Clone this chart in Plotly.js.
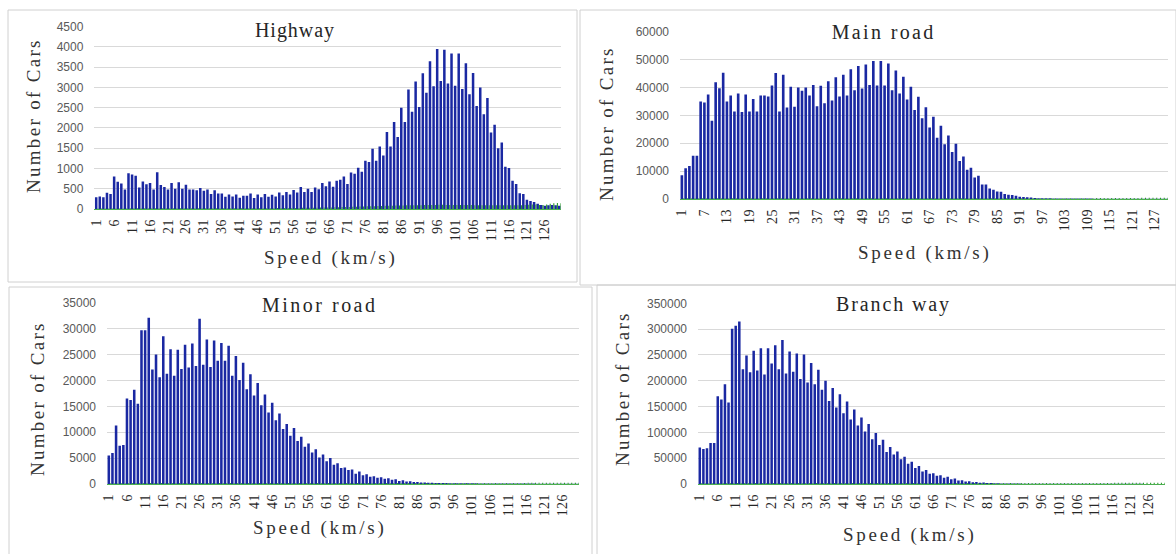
<!DOCTYPE html>
<html><head><meta charset="utf-8">
<script src="https://cdn.plot.ly/plotly-3.0.1.min.js"></script>
<style>html,body{margin:0;padding:0;background:#fff}#chart{width:1176px;height:554px}</style>
</head><body><div id="chart"></div>
<script>
// ---------------- DATA ----------------
const speeds = [1,2,3,4,5,6,7,8,9,10,11,12,13,14,15,16,17,18,19,20,21,22,23,24,25,26,27,28,29,30,
31,32,33,34,35,36,37,38,39,40,41,42,43,44,45,46,47,48,49,50,51,52,53,54,55,56,57,58,59,60,
61,62,63,64,65,66,67,68,69,70,71,72,73,74,75,76,77,78,79,80,81,82,83,84,85,86,87,88,89,90,
91,92,93,94,95,96,97,98,99,100,101,102,103,104,105,106,107,108,109,110,111,112,113,114,115,116,117,118,119,120,
121,122,123,124,125,126,127,128,129,130];

const ticksEvery5 = [1,6,11,16,21,26,31,36,41,46,51,56,61,66,71,76,81,86,91,96,101,106,111,116,121,126];
const ticksEvery6 = [1,7,13,19,25,31,37,43,49,55,61,67,73,79,85,91,97,103,109,115,121,127];

const highwayCars = [290,310,290,400,370,800,670,630,480,880,
850,820,530,680,610,640,480,910,590,540,
480,640,500,660,500,600,480,480,460,520,
450,480,370,460,380,380,300,360,310,360,
280,330,330,380,270,360,290,370,300,350,
310,410,340,420,360,470,410,540,420,500,
420,530,490,640,560,680,550,700,720,800,
620,900,870,1020,920,1190,1160,1490,1190,1540,
1320,1900,1540,2150,1780,2500,2150,2950,2400,3150,
2520,3350,2870,3650,3030,3950,3160,3930,3100,3840,
3040,3840,2960,3600,2830,3360,2540,3000,2340,2740,
1890,2080,1500,1640,1040,1010,700,620,390,370,
230,200,170,130,100,80,90,100,90,80];
const highwayOther = [10,10,10,12,12,15,15,15,15,18,
18,18,18,18,18,18,18,18,18,18,
18,18,18,18,18,18,18,18,18,18,
18,18,18,18,18,18,18,18,18,18,
20,20,20,20,20,20,20,20,20,20,
22,22,22,24,24,26,26,28,28,30,
30,32,34,36,38,40,42,45,48,50,
52,55,58,60,62,65,68,70,72,75,
78,80,82,85,85,88,90,90,92,95,
95,98,100,100,100,102,102,100,100,100,
100,100,98,98,96,95,95,95,95,95,
95,95,95,95,95,95,95,95,95,100,
105,110,110,100,100,110,130,140,150,140];

const mainCars = [8500,11000,11800,15500,15500,35000,34600,37500,28100,41900,
39700,45300,35000,37100,31400,37800,31200,37500,31400,35900,
31400,37100,37100,36800,40700,45200,31400,44600,32800,40300,
33100,40000,38800,40000,37100,40900,33300,40600,34300,42200,
35300,43700,36800,44600,37100,46500,39000,47700,39600,48200,
40900,49500,40700,49500,40700,48600,39000,46100,37800,43800,
35700,40300,31900,36700,29000,32900,25600,29500,22000,26300,
19600,22800,16900,19800,13600,15200,10500,11200,7700,8300,
5200,5200,3800,3300,2700,2600,1800,1500,1400,1200,
800,700,600,500,350,300,280,260,240,220,
200,200,180,180,170,160,150,150,140,140,
130,130,120,120,110,110,100,100,100,90,
90,90,80,80,80,70,70,70,60,60];
const mainOther = [250,250,260,260,260,280,280,280,280,300,
300,300,300,300,300,300,300,300,300,300,
300,300,300,300,300,300,300,300,300,300,
300,300,300,300,300,300,300,300,300,300,
300,300,300,300,300,300,300,300,300,300,
300,300,300,300,300,300,300,300,300,300,
300,300,300,300,300,300,300,300,300,300,
300,300,300,300,300,300,300,300,300,300,
300,300,300,300,300,300,300,300,300,300,
300,300,300,300,300,300,300,300,300,300,
300,300,300,300,300,300,300,300,300,300,
320,320,320,340,340,360,360,380,380,400,
400,400,420,420,420,440,440,440,440,440];

const minorCars = [5500,6000,11300,7400,7550,16500,16200,18200,15500,29700,
29700,32100,22100,25000,20600,28500,21300,26000,20900,25900,
22200,26900,22500,27100,22800,31900,23000,27900,22600,27700,
23800,27200,23800,26700,20900,24700,20100,23400,18300,21200,
17100,19500,15200,17300,13800,15700,12300,13600,10600,11600,
9300,10800,8300,9100,7200,7800,6100,6700,5100,5700,
4400,5000,3700,4000,3100,3200,2700,2800,2000,2400,
1700,1900,1400,1500,1200,1300,1000,1100,800,900,
600,700,500,550,400,400,300,300,250,250,
200,200,180,180,160,160,150,150,140,140,
130,130,120,120,110,110,100,100,100,100,
90,90,90,90,80,80,80,80,70,70,
70,70,60,60,60,60,50,50,50,50];
const minorOther = [150,150,160,160,160,170,170,170,180,180,
180,180,180,180,180,180,180,180,180,180,
180,180,180,180,180,180,180,180,180,180,
180,180,180,180,180,180,180,180,180,180,
180,180,180,180,180,180,180,180,180,180,
180,180,180,180,180,180,180,180,180,180,
180,180,180,180,180,180,180,180,180,180,
180,180,180,180,180,180,180,180,180,180,
180,180,180,180,180,180,180,180,180,180,
180,180,180,180,180,180,180,180,180,180,
190,190,190,190,190,190,200,200,200,200,
200,200,210,210,210,220,220,220,230,230,
230,240,240,240,250,250,250,250,250,250];

const branchCars = [70500,68000,69200,79500,79500,170000,163500,193000,157700,300600,
306400,314700,222400,248700,216600,258300,219800,262800,212200,262800,
233300,268600,222400,278800,214100,256400,217300,252600,203200,250600,
196800,234600,193000,221100,182700,200000,160900,185900,148100,173700,
137200,159600,125000,144200,113500,128800,101900,116000,86500,98700,
75600,85900,62200,71800,57000,63000,48000,53000,39000,43000,
31000,35000,24000,27000,20000,21000,16000,17000,12000,14000,
9000,10500,7000,7500,5000,5500,3500,4000,2500,2800,
1800,2000,1300,1400,1000,1000,900,900,800,800,
700,700,650,650,600,600,550,550,500,500,
480,480,460,460,440,440,420,420,400,400,
380,380,360,360,340,340,320,320,300,300,
280,280,260,260,240,240,220,220,200,200];
const branchOther = [1500,1500,1500,1600,1600,1600,1700,1700,1700,1800,
1800,1800,1800,1800,1800,1800,1800,1800,1800,1800,
1800,1800,1800,1800,1800,1800,1800,1800,1800,1800,
1800,1800,1800,1800,1800,1800,1800,1800,1800,1800,
1800,1800,1800,1800,1800,1800,1800,1800,1800,1800,
1800,1800,1800,1800,1800,1800,1800,1800,1800,1800,
1800,1800,1800,1800,1800,1800,1800,1800,1800,1800,
1800,1800,1800,1800,1800,1800,1800,1800,1800,1800,
1800,1800,1800,1800,1800,1800,1800,1800,1800,1800,
1800,1800,1800,1800,1800,1800,1800,1800,1800,1800,
1900,1900,1900,1900,1900,1900,2000,2000,2000,2000,
2000,2000,2100,2100,2100,2200,2200,2200,2300,2300,
2300,2400,2400,2400,2500,2500,2500,2500,2500,2500];

// ---------------- LAYOUT CONFIG ----------------
const W = 1176, H = 554;
const fx = v => v / W;
const fy = v => 1 - v / H;

const panels = [
  {title:'Highway', blue:highwayCars, green:highwayOther, ticks:ticksEvery5, ymax:4500, dtick:500,
   left:94.4, right:561, bottom:209, top:26.7,
   titleX:294, titleY:30, gapW:137, ytX:33, ytY:117, xtX:329, xtY:258,
   box:[8,10,577,282]},
  {title:'Main road', blue:mainCars, green:mainOther, ticks:ticksEvery6, ymax:60000, dtick:10000,
   left:680, right:1168, bottom:199, top:31.7,
   titleX:882, titleY:32, gapW:143, ytX:607, ytY:125, xtX:923, xtY:253,
   box:[580,10,1176,285]},
  {title:'Minor road', blue:minorCars, green:minorOther, ticks:ticksEvery5, ymax:35000, dtick:5000,
   left:107, right:579, bottom:484, top:302.7,
   titleX:318, titleY:305, gapW:149, ytX:37, ytY:400, xtX:318, xtY:528,
   box:[9,287,592,560]},
  {title:'Branch way', blue:branchCars, green:branchOther, ticks:ticksEvery5, ymax:350000, dtick:50000,
   left:698, right:1165, bottom:484, top:303.3,
   titleX:892, titleY:304, gapW:137, ytX:622, ytY:390, xtX:908, xtY:535,
   box:[597,285,1176,560]}
];

const SERIF = 'Liberation Serif, Times New Roman, serif';
const traces = [];
const layout = {
  width: W, height: H,
  margin: {l:0, r:0, t:0, b:0},
  paper_bgcolor: '#ffffff', plot_bgcolor: '#ffffff',
  showlegend: false, barmode: 'overlay',
  annotations: [], shapes: []
};

const titleFont = {family:SERIF, size:20, color:'#262626'};
const axTitleFont = {family:SERIF, size:19, color:'#333333'};

panels.forEach((p, i) => {
  const n = i === 0 ? '' : String(i + 1);
  const xa = 'x' + n, ya = 'y' + n;
  traces.push({type:'bar', x:speeds, y:p.blue, xaxis:xa, yaxis:ya, width:0.7, offset:-0.35,
    marker:{color:'#1a28a2', line:{width:0}}, name:p.title});
  traces.push({type:'bar', x:speeds, y:p.green, xaxis:xa, yaxis:ya, width:0.3, offset:0.35,
    marker:{color:'#2a9a2a', line:{width:0}}, name:p.title + ' (other)'});

  layout['xaxis' + n] = {
    domain:[fx(p.left), fx(p.right)], anchor:ya, range:[0.5, 130.5],
    tickmode:'array', tickvals:p.ticks, ticktext:p.ticks.map(String), tickangle:-90,
    tickfont:{family:SERIF, size:14, color:'#262626'},
    showgrid:false, zeroline:false, showline:true, linecolor:'#4caf50', linewidth:1,
    ticks:'', ticklabelstandoff:4, fixedrange:true
  };
  layout['yaxis' + n] = {
    domain:[fy(p.bottom), fy(p.top)], anchor:xa, range:[0, p.ymax], dtick:p.dtick, tick0:0,
    tickformat:'d', showgrid:true, gridcolor:'#d9d9d9', gridwidth:1, zeroline:false,
    showline:false, ticks:'', ticklabelstandoff:10,
    tickfont:{family:'Liberation Sans, Arial, sans-serif', size:12, color:'#595959'},
    fixedrange:true
  };

  layout.annotations.push({text:p.title, xref:'paper', yref:'paper', x:fx(p.titleX), y:fy(p.titleY),
    xanchor:'center', yanchor:'middle', showarrow:false, font:titleFont,
    bgcolor:'#ffffff', width:p.gapW, height:24});
  layout.annotations.push({text:'Number of Cars', xref:'paper', yref:'paper', x:fx(p.ytX), y:fy(p.ytY),
    xanchor:'center', yanchor:'middle', showarrow:false, font:axTitleFont, textangle:-90});
  layout.annotations.push({text:'Speed (km/s)', xref:'paper', yref:'paper', x:fx(p.xtX), y:fy(p.xtY),
    xanchor:'center', yanchor:'middle', showarrow:false, font:axTitleFont});

  layout.shapes.push({type:'rect', xref:'paper', yref:'paper', layer:'below',
    x0:fx(p.box[0]), x1:fx(p.box[2]), y0:fy(p.box[3]), y1:fy(p.box[1]),
    line:{color:'#d0d0d0', width:1}, fillcolor:'rgba(0,0,0,0)'});
});

// emulate the half-width (monospaced) spacing of the original serif font
function monoSpace(el, cell) {
  const s = el.textContent;
  if (!s) return;
  el.setAttribute('textLength', (s.length * cell).toFixed(1));
  el.setAttribute('lengthAdjust', 'spacing');
}

Plotly.newPlot('chart', traces, layout, {displayModeBar:false, staticPlot:true}).then(() => {
  document.querySelectorAll('.annotation-text').forEach(t => {
    const s = t.textContent;
    monoSpace(t, (s === 'Speed (km/s)' || s === 'Number of Cars') ? 10.9 : 11.3);
  });
  document.querySelectorAll('g.xtick text, g.x2tick text, g.x3tick text, g.x4tick text').forEach(t => monoSpace(t, 7.2));
});
</script>
</body></html>
